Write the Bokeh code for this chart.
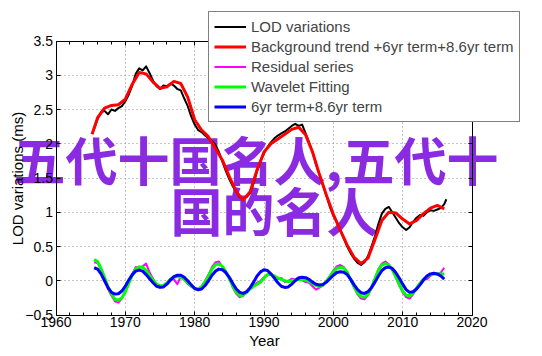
import math
from bokeh.plotting import figure
from bokeh.models import LinearAxis, FixedTicker, CustomJSTickFormatter, Label, Grid, Range1d
from bokeh.embed import file_html
from bokeh.resources import INLINE

# ---------------- data ----------------
lod_values = [
    2.22, 2.36, 2.46, 2.48, 2.43, 2.50, 2.48, 2.52, 2.55, 2.62,
    2.72, 2.85, 3.02, 3.10, 3.07, 3.13, 3.03, 2.92, 2.84, 2.80,
    2.85, 2.84, 2.88, 2.85, 2.80, 2.78, 2.66, 2.55, 2.40, 2.28,
    2.20, 2.17, 2.12, 2.08, 2.04, 1.98, 1.88, 1.74, 1.60, 1.48,
    1.38, 1.30, 1.22, 1.20, 1.22, 1.28, 1.42, 1.60, 1.74, 1.86,
    1.95, 2.02, 2.08, 2.12, 2.15, 2.18, 2.22, 2.26, 2.29, 2.26,
    2.28, 2.15, 2.02, 1.88, 1.70, 1.55, 1.40, 1.24, 1.08, 0.95,
    0.86, 0.74, 0.62, 0.50, 0.40, 0.32, 0.26, 0.23, 0.27, 0.36,
    0.50, 0.65, 0.83, 0.98, 1.05, 1.08, 1.00, 0.92, 0.84, 0.78,
    0.74, 0.78, 0.86, 0.92, 0.96, 0.95, 1.00, 1.03, 1.02, 1.04,
    1.06, 1.12, 1.19,
]
lod_years = [1965.5 + 0.5 * i for i in range(len(lod_values) - 1)] + [2016.3]

trend_years = [1965.2] + list(range(1966, 2017))
trend_values = [
    2.14, 2.38, 2.52, 2.56, 2.57, 2.65, 2.87, 3.04, 3.02, 2.90,
    2.81, 2.83, 2.91, 2.88, 2.68, 2.35, 2.20, 2.10, 1.93, 1.76,
    1.52, 1.30, 1.18, 1.30, 1.62, 1.88, 2.00, 2.07, 2.14, 2.21,
    2.24, 2.13, 1.88, 1.55, 1.25, 0.97, 0.74, 0.52, 0.34, 0.25,
    0.33, 0.60, 0.88, 1.00, 0.99, 0.90, 0.83, 0.88, 0.98, 1.06,
    1.10, 1.05,
]

residual_values = [
    0.27, 0.26, 0.16, 0.03, -0.12, -0.22, -0.30, -0.32, -0.26, -0.14,
    -0.03, 0.10, 0.20, 0.18, 0.21, 0.25, 0.12, 0.03, -0.06, -0.10,
    -0.08, -0.04, 0.03, 0.02, -0.05, 0.06, 0.02, -0.05, -0.08, -0.12,
    -0.14, -0.08, 0.00, 0.09, 0.20, 0.27, 0.28, 0.20, 0.10, 0.04,
    -0.10, -0.19, -0.24, -0.22, -0.15, -0.10, -0.07, -0.03, 0.00, 0.05,
    0.08, 0.10, 0.06, 0.02, 0.04, -0.02, 0.00, 0.03, 0.02, 0.05,
    0.01, -0.02, -0.03, -0.08, -0.13, -0.10, -0.07, 0.00, 0.07, 0.15,
    0.21, 0.23, 0.20, 0.13, 0.01, -0.10, -0.20, -0.26, -0.27, -0.21,
    -0.11, 0.04, 0.17, 0.25, 0.28, 0.24, 0.17, 0.05, -0.07, -0.17,
    -0.24, -0.26, -0.20, -0.10, -0.03, 0.03, 0.02, 0.07, 0.10, 0.09,
    0.12, 0.19,
]
wavelet_values = [
    0.31, 0.28, 0.18, 0.05, -0.09, -0.20, -0.27, -0.285, -0.25, -0.16,
    -0.04, 0.08, 0.17, 0.205, 0.195, 0.15, 0.08, 0.01, -0.05, -0.075,
    -0.07, -0.03, 0.02, 0.05, 0.06, 0.05, 0.02, -0.03, -0.08, -0.115,
    -0.12, -0.09, -0.02, 0.07, 0.17, 0.235, 0.245, 0.21, 0.13, 0.03,
    -0.08, -0.17, -0.215, -0.21, -0.17, -0.12, -0.08, -0.05, -0.02, 0.04,
    0.09, 0.09, 0.07, 0.04, 0.02, 0.00, -0.01, 0.00, 0.01, 0.02,
    0.02, 0.01, -0.01, -0.04, -0.07, -0.08, -0.06, -0.01, 0.06, 0.13,
    0.18, 0.195, 0.185, 0.12, 0.02, -0.09, -0.18, -0.23, -0.24, -0.20,
    -0.10, 0.03, 0.15, 0.23, 0.25, 0.23, 0.16, 0.06, -0.05, -0.15,
    -0.21, -0.22, -0.18, -0.11, -0.04, 0.02, 0.06, 0.09, 0.10, 0.10,
    0.10, 0.10,
]
term_values = [
    0.19, 0.17, 0.10, 0.00, -0.10, -0.17, -0.195, -0.19, -0.15, -0.08,
    0.01, 0.09, 0.14, 0.155, 0.14, 0.09, 0.03, -0.03, -0.08, -0.095,
    -0.09, -0.05, 0.01, 0.06, 0.08, 0.08, 0.05, 0.00, -0.06, -0.11,
    -0.13, -0.12, -0.07, 0.00, 0.08, 0.14, 0.17, 0.16, 0.12, 0.05,
    -0.04, -0.12, -0.17, -0.185, -0.16, -0.10, -0.02, 0.07, 0.13, 0.16,
    0.15, 0.10, 0.04, -0.03, -0.08, -0.097, -0.09, -0.05, 0.00, 0.04,
    0.05, 0.045, 0.02, -0.02, -0.05, -0.063, -0.055, -0.02, 0.03, 0.08,
    0.12, 0.13, 0.125, 0.09, 0.02, -0.06, -0.13, -0.175, -0.185, -0.16,
    -0.10, -0.02, 0.07, 0.15, 0.19, 0.20, 0.18, 0.12, 0.04, -0.05,
    -0.13, -0.17, -0.16, -0.12, -0.06, 0.01, 0.07, 0.10, 0.11, 0.10,
    0.07, 0.025,
]
osc_years = [1965.5 + 0.5 * i for i in range(len(term_values))]

x_lim = (1960, 2020)
y_lim = (-0.5, 3.5)
x_ticks = [1960, 1970, 1980, 1990, 2000, 2010, 2020]
x_minor = list(range(1960, 2021, 2))
y_ticks = [-0.5, 0, 0.5, 1, 1.5, 2, 2.5, 3, 3.5]

legend_labels = ["LOD variations", "Background trend +6yr term+8.6yr term",
                 "Residual series", "Wavelet Fitting", "6yr term+8.6yr term"]
x_title = "Year"
y_title = "LOD variations (ms)"
watermark_lines = ["五代十国名人,五代十", "国的名人"]

FONT = "Liberation Sans"

# ---------------- layout (pixels) ----------------
W, H = 542, 356
AX_L, AX_R, AX_T, AX_B = 55.5, 471.5, 40.5, 314.5   # axes box inside the canvas
px_x = (AX_R - AX_L) / (x_lim[1] - x_lim[0])
px_y = (AX_B - AX_T) / (y_lim[1] - y_lim[0])
x_range = Range1d(x_lim[0] - AX_L / px_x, x_lim[1] + (W - AX_R) / px_x)
y_range = Range1d(y_lim[0] - (H - AX_B) / px_y, y_lim[1] + AX_T / px_y)

p = figure(width=W, height=H, x_range=x_range, y_range=y_range,
           x_axis_location=None, y_axis_location=None,
           output_backend="svg", toolbar_location=None,
           min_border=0)
p.background_fill_color = "white"
p.border_fill_color = "white"
p.outline_line_color = None
for g in p.grid:
    g.visible = False

xt = FixedTicker(ticks=x_ticks, minor_ticks=x_minor)
yt = FixedTicker(ticks=y_ticks, minor_ticks=[])
blank_x = CustomJSTickFormatter(code="return '';")
blank_y = CustomJSTickFormatter(code="return '';")
xfmt = CustomJSTickFormatter(code="return String(tick);")
yfmt = CustomJSTickFormatter(code="return tick < 0 ? '\u2212' + String(-tick) : String(tick);")

def make_axis(ticker, fmt, loc, bounds):
    ax = LinearAxis(ticker=ticker, formatter=fmt, fixed_location=loc, bounds=bounds)
    ax.axis_line_color = "black"
    ax.major_tick_line_color = "black"
    ax.minor_tick_line_color = "black"
    ax.major_tick_in = 4
    ax.major_tick_out = 0
    ax.minor_tick_in = 3
    ax.minor_tick_out = 0
    ax.major_label_text_font = FONT
    ax.major_label_text_font_size = "14px"
    ax.major_label_text_color = "black"
    ax.axis_label_text_font = FONT
    ax.axis_label_text_font_size = "15px"
    ax.axis_label_text_font_style = "normal"
    ax.axis_label_text_color = "black"
    return ax

bottom_ax = make_axis(xt, xfmt, y_lim[0], x_lim)
bottom_ax.major_label_standoff = 2
bottom_ax.axis_label = x_title
bottom_ax.axis_label_standoff = 1
left_ax = make_axis(yt, yfmt, x_lim[0], y_lim)
left_ax.major_label_standoff = 3
left_ax.axis_label = y_title
left_ax.axis_label_standoff = -3
top_ax = make_axis(xt, blank_x, y_lim[1], x_lim)
right_ax = make_axis(yt, blank_y, x_lim[1], y_lim)
for ax in (top_ax, right_ax):
    ax.major_label_text_font_size = "1px"
    ax.major_label_standoff = 0
p.add_layout(bottom_ax, "below")
p.add_layout(left_ax, "left")
p.add_layout(top_ax, "above")
p.add_layout(right_ax, "right")

for dim, tk, b, cb in ((0, xt, x_lim, y_lim), (1, yt, y_lim, x_lim)):
    g = Grid(dimension=dim, ticker=tk, bounds=b, cross_bounds=cb,
             grid_line_color="#8c8c8c", grid_line_dash="1 3", grid_line_width=1)
    p.add_layout(g, "center")

# watermark text (underneath the lines)
p.add_layout(Label(x=1953.87, y=1.785, text=watermark_lines[0], text_font="Noto Sans CJK SC",
                   text_font_style="bold", text_font_size="52px", text_color="#8a2be2",
                   text_baseline="middle", text_align="left", level="underlay"))
p.add_layout(Label(x=1976.51, y=1.04, text=watermark_lines[1], text_font="Noto Sans CJK SC",
                   text_font_style="bold", text_font_size="52px", text_color="#8a2be2",
                   text_baseline="middle", text_align="left", level="underlay"))

p.line(lod_years, lod_values, line_color="black", line_width=2, line_join="round",
       legend_label=legend_labels[0])
p.line(trend_years, trend_values, line_color="#ff0000", line_width=3, line_join="round",
       legend_label=legend_labels[1])
p.line(osc_years, residual_values, line_color="#ff00ff", line_width=2, line_join="round",
       legend_label=legend_labels[2])
p.line(osc_years, wavelet_values, line_color="#00ff00", line_width=3, line_join="round",
       legend_label=legend_labels[3])
p.line(osc_years, term_values, line_color="#0000ff", line_width=3, line_join="round",
       legend_label=legend_labels[4])

lg = p.legend[0]
lg.location = (208, 234)
lg.border_line_color = "black"
lg.border_line_width = 1
lg.background_fill_color = "white"
lg.background_fill_alpha = 1
lg.label_text_font = FONT
lg.label_text_font_size = "15px"
lg.glyph_width = 32
lg.glyph_height = 19
lg.label_height = 19
lg.spacing = 1
lg.padding = 5
lg.margin = 0
lg.label_standoff = 5

open("out.html", "w").write(file_html(p, INLINE))
